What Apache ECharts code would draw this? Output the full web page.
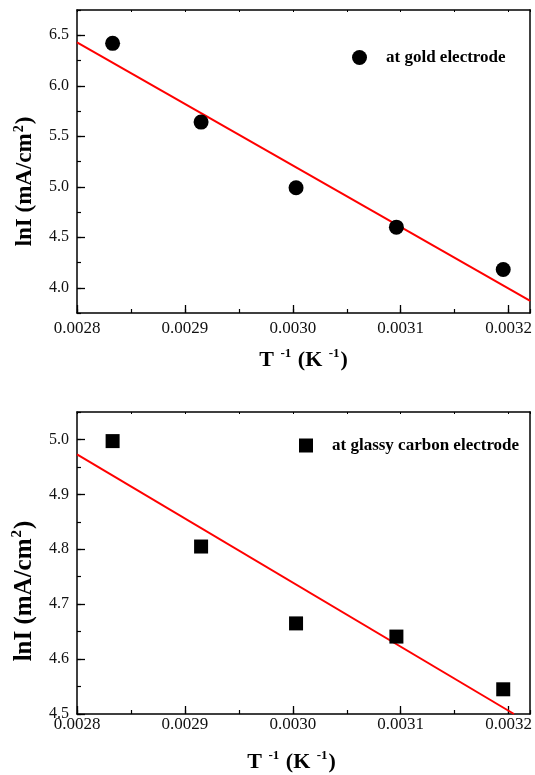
<!DOCTYPE html>
<html>
<head>
<meta charset="utf-8">
<script src="https://cdn.jsdelivr.net/npm/echarts@6/dist/echarts.min.js"></script>
<style>
html,body{margin:0;padding:0;background:#fff;}
#chart{width:535px;height:775px;}
</style>
</head>
<body>
<div id="chart"></div>
<script>
// ---- data ----
const invTemperature = [0.002833, 0.002915, 0.003003, 0.003096, 0.003195];
const goldLnI = [6.42, 5.64, 4.99, 4.60, 4.18];
const carbonLnI = [4.997, 4.805, 4.665, 4.641, 4.545];
const goldFitX = [0.0028, 0.00322];
const goldFitY = [6.43, 3.87];
const carbonFitX = [0.0028, 0.003205];
const carbonFitY = [4.973, 4.50];
const goldLabel = 'at gold electrode';
const carbonLabel = 'at glassy carbon electrode';
const xRange = [0.0028, 0.00322];
const goldYRange = [3.75, 6.75];
const carbonYRange = [4.5, 5.05];

const FONT = '"Liberation Serif", "Times New Roman", serif';
const zip = (a, b) => a.map((v, i) => [v, b[i]]);

function nameRich(size) {
  return {
    n: {fontFamily: FONT, fontWeight: 'bold', fontSize: size, color: '#000', lineHeight: size + 4},
    s: {fontFamily: FONT, fontWeight: 'bold', fontSize: Math.round(size * 0.6), color: '#000',
        verticalAlign: 'top', lineHeight: Math.round(size * 0.6), padding: [0, 1, 0, 1]}
  };
}

function xAxes(grid, namePad, nameGap, labelMargin) {
  return [
    {gridIndex: grid, type: 'value', position: 'bottom', min: xRange[0], max: xRange[1], interval: 0.0001,
     axisLine: {show: true, lineStyle: {color: '#000', width: 1.5}},
     axisTick: {inside: true, length: 8, lineStyle: {color: '#000', width: 1.3}},
     axisLabel: {margin: labelMargin, showMaxLabel: false, fontFamily: FONT, fontSize: 17, color: '#111',
       formatter: v => v.toFixed(4)},
     splitLine: {show: false},
     name: '{n|T }{s|-1}{n| (K }{s|-1}{n|)}', nameLocation: 'middle', nameGap: nameGap,
     nameTextStyle: {rich: nameRich(22), padding: namePad}},
    {gridIndex: grid, type: 'value', position: 'bottom', min: xRange[0], max: xRange[1], interval: 0.00005,
     axisLine: {show: false}, axisLabel: {show: false}, splitLine: {show: false},
     axisTick: {inside: true, length: 4, lineStyle: {color: '#000', width: 1.2}}},
    {gridIndex: grid, type: 'value', position: 'top', min: xRange[0], max: xRange[1], interval: 0.00005,
     axisLine: {show: true, lineStyle: {color: '#000', width: 1.5}}, axisLabel: {show: false}, splitLine: {show: false},
     axisTick: {inside: true, length: 2, lineStyle: {color: '#000', width: 1}}}
  ];
}

function yAxes(grid, range, majorOpt, minorInterval, namePad, nameSize) {
  return [
    Object.assign({gridIndex: grid, type: 'value', position: 'left', min: range[0], max: range[1],
     axisLine: {show: true, lineStyle: {color: '#000', width: 1.5}},
     axisTick: {inside: true, length: 8, lineStyle: {color: '#000', width: 1.3}},
     axisLabel: {margin: 8, showMaxLabel: false, fontFamily: FONT, fontSize: 16, color: '#111',
       formatter: v => v.toFixed(1)},
     splitLine: {show: false},
     name: '{n|lnI (mA/cm}{s|2}{n|)}', nameLocation: 'middle', nameGap: 38, nameRotate: 90,
     nameTextStyle: {rich: nameRich(nameSize), padding: namePad}}, majorOpt),
    {gridIndex: grid, type: 'value', position: 'left', min: range[0], max: range[1], interval: minorInterval,
     axisLine: {show: false}, axisLabel: {show: false}, splitLine: {show: false},
     axisTick: {inside: true, length: 4, lineStyle: {color: '#000', width: 1.2}}},
    {gridIndex: grid, type: 'value', position: 'right', min: range[0], max: range[1],
     axisLine: {show: true, lineStyle: {color: '#000', width: 1.5}}, axisLabel: {show: false},
     axisTick: {show: false}, splitLine: {show: false}}
  ];
}

const topX = xAxes(0, [0, 0, 0, 0], 34, 7);
const botX = xAxes(1, [0, 24, 0, 0], 35, 2);
const topY = yAxes(0, goldYRange, {splitNumber: 6, axisLabel: {margin: 8, showMinLabel: false, showMaxLabel: false,
  fontFamily: FONT, fontSize: 16, color: '#111', formatter: v => v.toFixed(1)}}, 0.25, [0, 40, 0, 0], 23);
const botY = yAxes(1, carbonYRange, {interval: 0.1}, 0.05, [0, 56, 0, 0], 25);

const option = {
  animation: false,
  backgroundColor: '#fff',
  grid: [
    {left: 77, top: 10, right: 2, height: 303},
    {left: 77, top: 412, right: 2, height: 302}
  ],
  xAxis: topX.concat(botX),
  yAxis: topY.concat(botY),
  legend: [
    {data: [goldLabel], left: 347, top: 44, itemWidth: 15, itemHeight: 15, icon: 'circle',
     textStyle: {fontFamily: FONT, fontWeight: 'bold', fontSize: 17, color: '#000', padding: [0, 0, 0, 14]}},
    {data: [carbonLabel], left: 294, top: 432, itemWidth: 14, itemHeight: 14, icon: 'rect',
     textStyle: {fontFamily: FONT, fontWeight: 'bold', fontSize: 17, color: '#000', padding: [0, 0, 0, 14]}}
  ],
  series: [
    {name: 'gold fit', type: 'line', xAxisIndex: 0, yAxisIndex: 0, data: zip(goldFitX, goldFitY),
     showSymbol: false, lineStyle: {color: '#ff0000', width: 2}, clip: true, z: 2},
    {name: goldLabel, type: 'scatter', xAxisIndex: 0, yAxisIndex: 0, data: zip(invTemperature, goldLnI),
     symbol: 'circle', symbolSize: 15, itemStyle: {color: '#000', opacity: 1}, z: 3},
    {name: 'carbon fit', type: 'line', xAxisIndex: 3, yAxisIndex: 3, data: zip(carbonFitX, carbonFitY),
     showSymbol: false, lineStyle: {color: '#ff0000', width: 2}, clip: true, z: 2},
    {name: carbonLabel, type: 'scatter', xAxisIndex: 3, yAxisIndex: 3, data: zip(invTemperature, carbonLnI),
     symbol: 'rect', symbolSize: 14, itemStyle: {color: '#000', opacity: 1}, z: 3}
  ]
};

const chart = echarts.init(document.getElementById('chart'), null, {renderer: 'canvas'});
chart.setOption(option);
</script>
</body>
</html>
